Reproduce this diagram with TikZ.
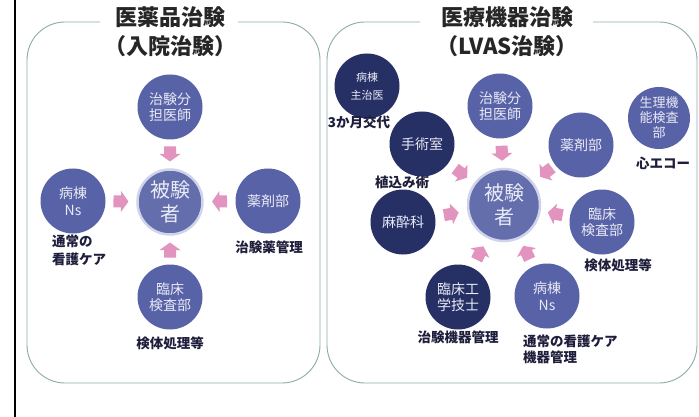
\documentclass[tikz,border=0pt]{standalone}
\usepackage{fontspec}
\setmainfont{Noto Sans CJK JP}
\usetikzlibrary{calc}
\definecolor{midblue}{RGB}{88,98,166}
\definecolor{subjblue}{RGB}{100,110,172}
\definecolor{navy}{RGB}{38,48,100}
\definecolor{pinkarr}{RGB}{226,148,190}
\definecolor{framec}{RGB}{140,172,170}
\definecolor{labelc}{RGB}{30,30,60}
\definecolor{halo}{RGB}{208,212,234}
\definecolor{circtext}{RGB}{232,234,246}
\tikzset{
 circ/.style={circle, minimum size=65pt, inner sep=0pt, text=circtext, font=\fontsize{14}{16.5}\selectfont, align=center},
 medc/.style={circ, fill=midblue},
 darkc/.style={circ, fill=navy},
 subjc/.style={circ, fill=subjblue, draw=halo, line width=2.5pt, font=\fontsize{20}{24}\selectfont},
 lbl/.style={text=labelc, font=\bfseries\fontsize{13.5}{17}\selectfont, align=left, inner sep=0pt},
 titl/.style={text=black!85, font=\bfseries\fontsize{22}{29}\selectfont, align=center},
 blockarrow/.pic={\fill[pinkarr] (-7.5,-6) -- (0,-6) -- (0,-10.5) -- (7.5,0) -- (0,10.5) -- (0,6) -- (-7.5,6) -- cycle;},
 panel/.style={draw=framec, line width=0.9pt, rounded corners=38pt}
}
\begin{document}
\begin{tikzpicture}[x=1pt,y=-1pt]
\useasboundingbox (0,0) rectangle (699,417);
\fill[white] (0,0) rectangle (699,417);
\draw[line width=2.5pt] (15,0) -- (15,417);

% panels
\draw[panel] (100,22) -- (27,22) -- (27,383) -- (320,383) -- (320,22) -- (238,22);
\draw[panel] (420,22) -- (327,22) -- (327,383) -- (697,383) -- (697,22) -- (593,22);

\node[titl] (Ltitle) at (170,32) {医薬品治験\\（入院治験）};
\node[titl] (Rtitle) at (507,32) {医療機器治験\\（LVAS治験）};

% left panel
\node[medc] (Ldoc) at (170,107) {治験分\\担医師};
\node[subjc] (Lsubj) at (170,202) {被験\\者};
\node[medc] (Lns) at (73,201) {病棟\\Ns};
\node[medc] (Lph) at (268,201) {薬剤部};
\node[medc] (Llab) at (170,297) {臨床\\検査部};
\node[lbl, anchor=north west, font=\bfseries\fontsize{13.5}{18}\selectfont] (Lnslbl) at (52,235) {通常の\\看護ケア};
\node[lbl] (Lphlbl) at (269,247) {治験薬管理};
\node[lbl] (Llablbl) at (170,343) {検体処理等};

\path (Ldoc) -- pic[pos=0.5, sloped, allow upside down] (La1) {blockarrow} (Lsubj);
\path (Lns) -- pic[pos=0.5, sloped, allow upside down] (La2) {blockarrow} (Lsubj);
\path (Lph) -- pic[pos=0.5, sloped, allow upside down] (La3) {blockarrow} (Lsubj);
\path (Llab) -- pic[pos=0.5, sloped, allow upside down] (La4) {blockarrow} (Lsubj);

% right panel
\node[darkc, font=\fontsize{11}{18}\selectfont] (Rward) at (367,86) {病棟\\主治医};
\node[lbl] (Rwardlbl) at (359,122) {3か月交代};
\node[darkc] (Ror) at (422,144) {手術室};
\node[lbl] (Rorlbl) at (402,182) {植込み術};
\node[medc] (Rdoc) at (500,106) {治験分\\担医師};
\node[medc] (Rph) at (581,145) {薬剤部};
\node[medc, minimum size=62pt, font=\fontsize{13}{15}\selectfont] (Rphys) at (659,118) {生理機\\能検査\\部};
\node[lbl] (Rphyslbl) at (663,163) {心エコー};
\node[subjc, minimum size=72pt] (Rsubj) at (504,205) {被験\\者};
\node[darkc] (Ranes) at (403,222) {麻酔科};
\node[medc] (Rlab) at (602,222) {臨床\\検査部};
\node[lbl] (Rlablbl) at (618,265) {検体処理等};
\node[darkc] (Rce) at (458,297) {臨床工\\学技士};
\node[lbl] (Rcelbl) at (458,337) {治験機器管理};
\node[medc] (Rns) at (547,296) {病棟\\Ns};
\node[lbl, anchor=north west, font=\bfseries\fontsize{13.5}{15.5}\selectfont] (Rnslbl) at (523,335) {通常の看護ケア\\機器管理};

\path (Rdoc) -- pic[pos=0.5, sloped, allow upside down] (Ra1) {blockarrow} (Rsubj);
\path (Ror) -- pic[pos=0.5, sloped, allow upside down] (Ra2) {blockarrow} (Rsubj);
\path (Rph) -- pic[pos=0.42, sloped, allow upside down] (Ra3) {blockarrow} (Rsubj);
\path (Ranes) -- pic[pos=0.5, sloped, allow upside down] (Ra4) {blockarrow} (Rsubj);
\path (Rlab) -- pic[pos=0.5, sloped, allow upside down] (Ra5) {blockarrow} (Rsubj);
\path (Rce) -- pic[pos=0.5, sloped, allow upside down] (Ra6) {blockarrow} (Rsubj);
\path (Rns) -- pic[pos=0.5, sloped, allow upside down] (Ra7) {blockarrow} (Rsubj);
\end{tikzpicture}
\end{document}
